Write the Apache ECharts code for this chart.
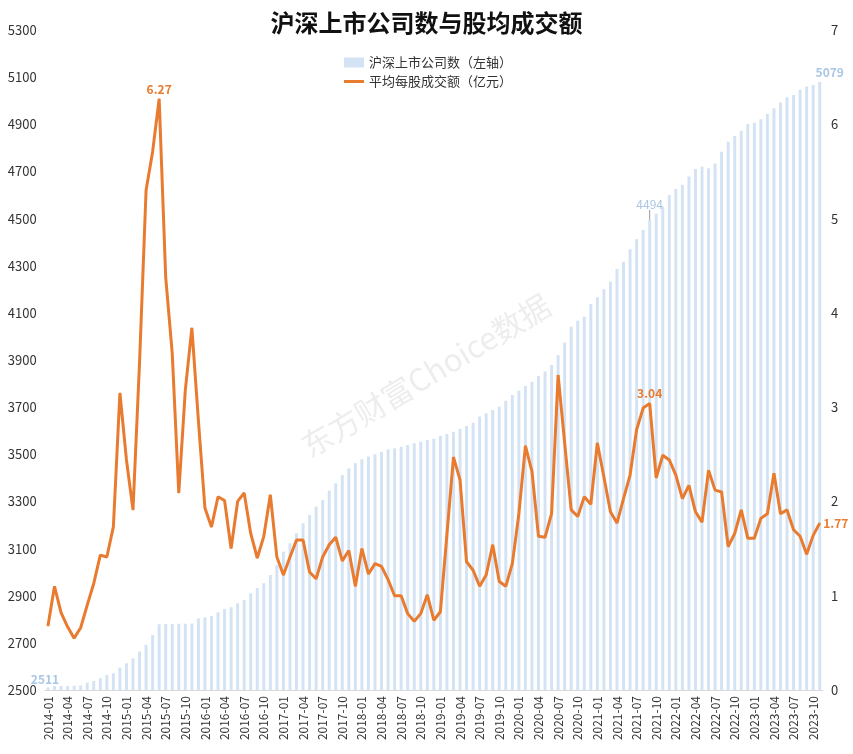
<!DOCTYPE html>
<html>
<head>
<meta charset="utf-8">
<script src="https://cdn.jsdelivr.net/npm/echarts@6/dist/echarts.min.js"></script>
<style>html,body{margin:0;padding:0;background:#fff}#c{width:853px;height:754px}</style>
</head>
<body>
<div id="c"></div>
<script>
// ---- data ----
const startYear = 2014, monthCount = 119;
const months = [];
for (let i = 0; i < monthCount; i++) {
  const y = startYear + Math.floor(i / 12), m = (i % 12) + 1;
  months.push(y + '-' + (m < 10 ? '0' + m : m));
}
const companyCount = [
  2511,2517,2517,2517,2518,2519,2531,2538,2550,2564,2571,2595,
  2613,2634,2663,2691,2733,2779,2780,2780,2781,2781,2782,2804,
  2808,2814,2830,2844,2851,2868,2882,2910,2932,2953,2988,3030,
  3087,3122,3165,3207,3242,3278,3306,3346,3377,3412,3440,3462,
  3479,3490,3500,3511,3521,3525,3532,3539,3547,3553,3561,3566,
  3578,3586,3596,3607,3620,3634,3660,3674,3688,3702,3727,3752,
  3770,3790,3808,3832,3851,3879,3921,3974,4041,4066,4084,4138,
  4166,4200,4232,4286,4317,4370,4412,4452,4494,4520,4550,4600,
  4625,4643,4678,4710,4720,4713,4734,4784,4826,4850,4873,4901,
  4907,4921,4944,4968,4992,5015,5024,5046,5060,5067,5079
];
const avgTurnover = [
  0.68,1.10,0.82,0.67,0.55,0.66,0.90,1.13,1.43,1.41,1.73,3.15,
  2.44,1.91,3.47,5.30,5.71,6.27,4.38,3.57,2.09,3.18,3.84,2.86,
  1.93,1.73,2.05,2.01,1.50,2.00,2.09,1.66,1.40,1.63,2.07,1.41,
  1.22,1.41,1.59,1.59,1.25,1.18,1.41,1.54,1.62,1.37,1.48,1.10,
  1.50,1.23,1.34,1.31,1.17,1.00,1.00,0.81,0.73,0.81,1.01,0.74,
  0.83,1.65,2.47,2.23,1.36,1.27,1.10,1.22,1.54,1.15,1.10,1.34,
  1.87,2.59,2.32,1.63,1.62,1.87,3.34,2.62,1.91,1.84,2.05,1.97,
  2.62,2.26,1.89,1.77,2.03,2.28,2.76,2.99,3.04,2.25,2.49,2.44,
  2.28,2.03,2.17,1.89,1.78,2.33,2.12,2.10,1.52,1.66,1.91,1.61,
  1.61,1.82,1.87,2.30,1.87,1.91,1.70,1.63,1.44,1.64,1.77
];
const leftTicks = {min: 2500, max: 5300, step: 200};
const rightTicks = {min: 0, max: 7, step: 1};
const barLabelIdx = [0, 92, 118];
const lineLabelIdx = [17, 92, 118];
const seriesNames = ['沪深上市公司数（左轴）', '平均每股成交额（亿元）'];
const titleText = '沪深上市公司数与股均成交额';
const watermark = '东方财富Choice数据';

// ---- chart ----
const BAR = '#d3e3f4', BARLBL = '#a9c6e4', LINE = '#e87b2f';
const FONT = '"Noto Sans CJK SC","Noto Sans",sans-serif';

const barData = companyCount.map((v, i) => {
  if (barLabelIdx.indexOf(i) < 0) return v;
  const item = {value: v, label: {show: true, position: 'top', distance: 2, color: BARLBL, fontWeight: 'bold', fontSize: 12, fontFamily: FONT}};
  if (i === barLabelIdx[1]) {
    item.label.fontWeight = 'normal';
    item.labelLine = {show: true, lineStyle: {color: '#9a9a9a', width: 1}};
  }
  return item;
});
const barLabelShift = {};
barLabelShift[barLabelIdx[0]] = {dx: -3, dy: 0};
barLabelShift[barLabelIdx[1]] = {dx: 0, dy: -8};
barLabelShift[barLabelIdx[2]] = {dx: 10, dy: -2};

const lineData = avgTurnover.map((v, i) => {
  if (lineLabelIdx.indexOf(i) < 0) return v;
  const item = {value: v, label: {show: true, position: 'top', distance: 3, color: LINE, fontWeight: 'bold', fontSize: 12, fontFamily: FONT}};
  if (i === lineLabelIdx[2]) { item.label.position = 'right'; item.label.distance = 3; }
  return item;
});

const chart = echarts.init(document.getElementById('c'));
chart.setOption({
  backgroundColor: '#fff',
  animation: false,
  title: {
    text: titleText, left: 'center', top: 6,
    textStyle: {fontSize: 24, fontWeight: 'bold', color: '#111', fontFamily: FONT}
  },
  legend: {
    orient: 'vertical', left: 339, top: 51, itemGap: 6, itemWidth: 20, itemHeight: 10,
    textStyle: {fontSize: 13, color: '#333', fontFamily: FONT},
    data: [
      {name: seriesNames[0], icon: 'rect'},
      {name: seriesNames[1], icon: 'path://M0,0 L20,0 L20,3 L0,3 Z'}
    ]
  },
  graphic: [{
    type: 'text', x: 312, y: 462, rotation: Math.PI * 31 / 180, z: 0,
    style: {text: watermark, fontSize: 31, fill: 'rgba(190,190,190,0.28)', fontFamily: FONT, textVerticalAlign: 'bottom'}
  }],
  grid: {left: 44.7, right: 30, top: 30, bottom: 64},
  xAxis: {
    type: 'category', data: months, boundaryGap: true,
    axisLine: {lineStyle: {color: '#d9d9d9'}},
    axisTick: {show: false},
    axisLabel: {interval: 2, rotate: 90, fontSize: 12, color: '#333', fontFamily: FONT, margin: 6}
  },
  yAxis: [
    {
      type: 'value', min: leftTicks.min, max: leftTicks.max, interval: leftTicks.step,
      axisLine: {show: false}, axisTick: {show: false}, splitLine: {show: false},
      axisLabel: {fontSize: 13, color: '#333', fontFamily: FONT, margin: 8, formatter: v => String(v)}
    },
    {
      type: 'value', min: rightTicks.min, max: rightTicks.max, interval: rightTicks.step,
      axisLine: {show: false}, axisTick: {show: false}, splitLine: {show: false},
      axisLabel: {fontSize: 13, color: '#333', fontFamily: FONT, margin: 8, formatter: v => String(v)}
    }
  ],
  series: [
    {
      name: seriesNames[0], type: 'bar', yAxisIndex: 0, data: barData,
      barWidth: '45%', itemStyle: {color: BAR}, z: 2,
      labelLayout: p => (barLabelShift[p.dataIndex] || {})
    },
    {
      name: seriesNames[1], type: 'line', yAxisIndex: 1, data: lineData,
      showSymbol: true, symbol: 'circle', symbolSize: 1,
      lineStyle: {color: LINE, width: 3}, itemStyle: {color: LINE}, z: 3
    }
  ]
});
</script>
</body>
</html>
